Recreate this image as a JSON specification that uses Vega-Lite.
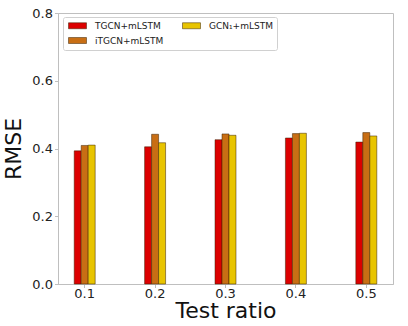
{
  "$schema": "https://vega.github.io/schema/vega-lite/v6.json",
  "width": 335,
  "height": 271,
  "autosize": {"type": "none"},
  "padding": {"left": 58, "top": 13, "right": 15, "bottom": 42},
  "background": "white",
  "config": {
    "font": "DejaVu Sans",
    "view": {"stroke": "#bfbfbf", "strokeWidth": 1},
    "axis": {
      "domainColor": "#bfbfbf",
      "tickColor": "#bfbfbf",
      "tickSize": 3.5,
      "labelColor": "#222222",
      "labelFontSize": 13,
      "titleFontSize": 22,
      "titleFontWeight": "normal",
      "titleColor": "#111111",
      "labelFont": "DejaVu Sans",
      "titleFont": "DejaVu Sans"
    }
  },
  "data": {
    "values": [
      {"ratio": "0.1", "model": "TGCN+mLSTM", "rmse": 0.393},
      {"ratio": "0.1", "model": "iTGCN+mLSTM", "rmse": 0.409},
      {"ratio": "0.1", "model": "GCN₁+mLSTM", "rmse": 0.410},
      {"ratio": "0.2", "model": "TGCN+mLSTM", "rmse": 0.405},
      {"ratio": "0.2", "model": "iTGCN+mLSTM", "rmse": 0.442},
      {"ratio": "0.2", "model": "GCN₁+mLSTM", "rmse": 0.417},
      {"ratio": "0.3", "model": "TGCN+mLSTM", "rmse": 0.426},
      {"ratio": "0.3", "model": "iTGCN+mLSTM", "rmse": 0.443},
      {"ratio": "0.3", "model": "GCN₁+mLSTM", "rmse": 0.439},
      {"ratio": "0.4", "model": "TGCN+mLSTM", "rmse": 0.431},
      {"ratio": "0.4", "model": "iTGCN+mLSTM", "rmse": 0.444},
      {"ratio": "0.4", "model": "GCN₁+mLSTM", "rmse": 0.445},
      {"ratio": "0.5", "model": "TGCN+mLSTM", "rmse": 0.419},
      {"ratio": "0.5", "model": "iTGCN+mLSTM", "rmse": 0.447},
      {"ratio": "0.5", "model": "GCN₁+mLSTM", "rmse": 0.437}
    ]
  },
  "mark": {"type": "bar", "stroke": "#3a2000", "strokeWidth": 0.5},
  "encoding": {
    "x": {
      "field": "ratio",
      "type": "nominal",
      "scale": {"paddingInner": 0.702, "paddingOuter": 0.23},
      "axis": {"title": "Test ratio", "labelAngle": 0, "titlePadding": 0, "labelPadding": 0}
    },
    "xOffset": {
      "field": "model",
      "type": "nominal",
      "sort": ["TGCN+mLSTM", "iTGCN+mLSTM", "GCN₁+mLSTM"],
      "scale": {"paddingInner": 0, "paddingOuter": 0}
    },
    "y": {
      "field": "rmse",
      "type": "quantitative",
      "scale": {"domain": [0, 0.8], "nice": false},
      "axis": {"title": "RMSE", "values": [0, 0.2, 0.4, 0.6, 0.8], "format": ".1f", "grid": false, "titlePadding": 6, "labelPadding": 2}
    },
    "color": {
      "field": "model",
      "type": "nominal",
      "scale": {
        "domain": ["TGCN+mLSTM", "GCN₁+mLSTM", "iTGCN+mLSTM"],
        "range": ["#dc0000", "#e8c400", "#c86e14"]
      },
      "legend": {
        "title": null,
        "orient": "none",
        "legendX": 5,
        "legendY": 4,
        "columns": 2,
        "direction": "horizontal",
        "symbolType": "M-1,-1H5V1H-1Z",
        "symbolSize": 36,
        "symbolStrokeColor": "#3a2000",
        "symbolStrokeWidth": 0.5,
        "labelFontSize": 9,
        "labelFont": "DejaVu Sans",
        "labelColor": "#222222",
        "labelOffset": 19,
        "columnPadding": 17,
        "rowPadding": 5,
        "padding": 4,
        "fillColor": "white",
        "strokeColor": "#d0d0d0",
        "cornerRadius": 2
      }
    }
  }
}
